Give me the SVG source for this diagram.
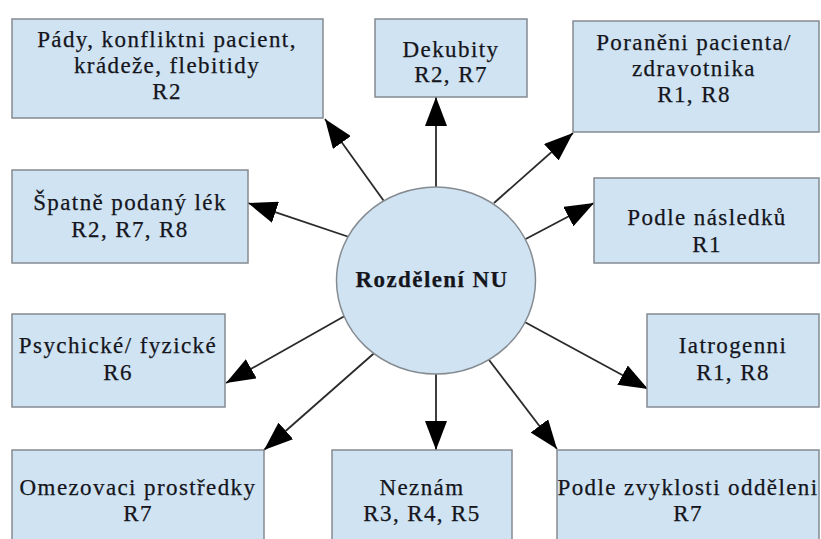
<svg xmlns="http://www.w3.org/2000/svg" width="821" height="539" viewBox="0 0 821 539">
  <style>
    .box { fill: #cfe3f2; stroke: #858b90; stroke-width: 1.5; }
    .hub { fill: #cfe3f2; stroke: #858b90; stroke-width: 1.5; }
    .lbl { font-family: "Liberation Serif", "Times New Roman", serif; font-size: 23px; fill: #15151c; stroke: #15151c; stroke-width: 0.25; text-anchor: middle; letter-spacing: 1.4px; }
    .hubl { font-weight: bold; }
    .edge { stroke: #2a2a2a; stroke-width: 1.8; fill: none; marker-end: url(#head); }
  </style>
  <defs>
    <marker id="head" markerUnits="userSpaceOnUse" markerWidth="31" markerHeight="22" refX="29" refY="11" orient="auto">
      <path d="M0,0 L29,11 L0,22 Z" fill="#000"/>
    </marker>
  </defs>
  <rect width="821" height="539" fill="#fff"/>

  <!-- connectors from the hub to each category -->
  <g id="connectors">
    <line class="edge" x1="386" y1="204" x2="325" y2="119"/>
    <line class="edge" x1="436" y1="192" x2="436" y2="97"/>
    <line class="edge" x1="494" y1="203" x2="573" y2="133"/>
    <line class="edge" x1="358" y1="240" x2="248" y2="203"/>
    <line class="edge" x1="520" y1="242" x2="594" y2="203"/>
    <line class="edge" x1="350" y1="313" x2="226" y2="383"/>
    <line class="edge" x1="521" y1="320" x2="648" y2="389"/>
    <line class="edge" x1="380" y1="348" x2="264" y2="450"/>
    <line class="edge" x1="436" y1="368" x2="436" y2="450"/>
    <line class="edge" x1="486" y1="356" x2="557" y2="449"/>
  </g>

  <g id="hub">
    <ellipse class="hub" cx="436" cy="280.5" rx="99.5" ry="93.5"/>
    <text class="lbl hubl" x="432" y="287">Rozdělení NU</text>
  </g>

  <g id="pady">
    <rect class="box" x="12" y="19" width="311" height="99"/>
    <text class="lbl" x="167" y="47">Pády, konfliktni pacient,</text>
    <text class="lbl" x="167" y="73">krádeže, flebitidy</text>
    <text class="lbl" x="167" y="99">R2</text>
  </g>

  <g id="dekubity">
    <rect class="box" x="375" y="19" width="152" height="78"/>
    <text class="lbl" x="451" y="57">Dekubity</text>
    <text class="lbl" x="451" y="82">R2, R7</text>
  </g>

  <g id="poraneni">
    <rect class="box" x="573" y="21" width="246" height="111"/>
    <text class="lbl" x="694" y="50">Poraněni pacienta/</text>
    <text class="lbl" x="694" y="76">zdravotnika</text>
    <text class="lbl" x="694" y="102">R1, R8</text>
  </g>

  <g id="spatne">
    <rect class="box" x="12" y="170" width="236" height="93"/>
    <text class="lbl" x="130" y="210">Špatně podaný lék</text>
    <text class="lbl" x="130" y="237">R2, R7, R8</text>
  </g>

  <g id="nasledky">
    <rect class="box" x="594" y="178" width="225" height="85"/>
    <text class="lbl" x="707" y="225">Podle následků</text>
    <text class="lbl" x="707" y="252">R1</text>
  </g>

  <g id="psychicke">
    <rect class="box" x="12" y="314" width="213" height="93"/>
    <text class="lbl" x="118" y="353">Psychické/ fyzické</text>
    <text class="lbl" x="118" y="380">R6</text>
  </g>

  <g id="iatrogenni">
    <rect class="box" x="647" y="314" width="172" height="93"/>
    <text class="lbl" x="733" y="353">Iatrogenni</text>
    <text class="lbl" x="733" y="380">R1, R8</text>
  </g>

  <g id="omezovaci">
    <rect class="box" x="12" y="450" width="252" height="100"/>
    <text class="lbl" x="138" y="495">Omezovaci prostředky</text>
    <text class="lbl" x="138" y="521">R7</text>
  </g>

  <g id="neznam">
    <rect class="box" x="332" y="450" width="180" height="100"/>
    <text class="lbl" x="422" y="495">Neznám</text>
    <text class="lbl" x="422" y="521">R3, R4, R5</text>
  </g>

  <g id="zvyklosti">
    <rect class="box" x="557" y="450" width="262" height="100"/>
    <text class="lbl" x="688" y="495">Podle zvyklosti odděleni</text>
    <text class="lbl" x="688" y="521">R7</text>
  </g>
</svg>
